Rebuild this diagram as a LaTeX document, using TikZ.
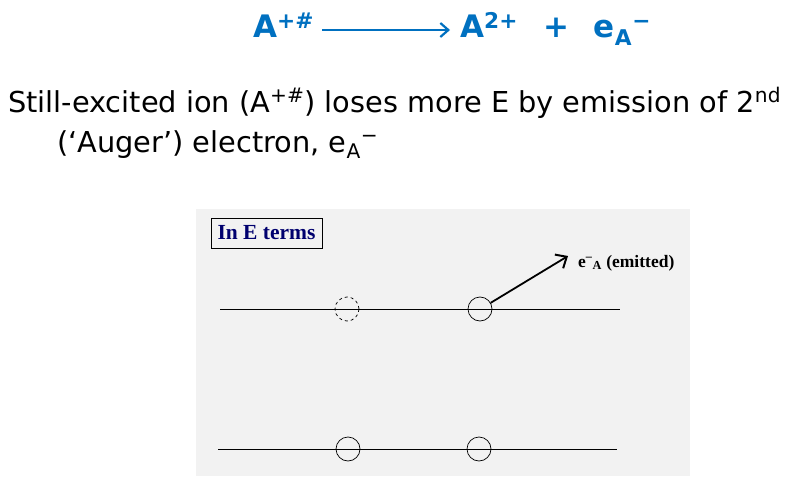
\documentclass[tikz,border=0pt]{standalone}
\usepackage{fontspec}
\setmainfont{Liberation Serif}
\setsansfont{DejaVu Sans}
\usetikzlibrary{arrows.meta}
\definecolor{eqblue}{RGB}{0,112,192}
\definecolor{panelgray}{RGB}{242,242,242}
\definecolor{navy}{RGB}{0,0,110}
\tikzstyle{eq}=[font=\sffamily\bfseries\fontsize{31}{36}\selectfont,text=eqblue,inner sep=0pt,anchor=base west]
\tikzstyle{body}=[font=\sffamily\fontsize{28.8}{34}\selectfont,inner sep=0pt,anchor=base west]
\tikzstyle{level}=[line width=0.9pt]
\tikzstyle{orbit}=[circle,draw,line width=0.7pt,minimum size=24pt,inner sep=0pt]
\tikzstyle{arrow}=[line width=1.8pt,-{Straight Barb[length=9pt,width=16pt,line width=2pt]}]

\begin{document}
\begin{tikzpicture}[x=1pt,y=-1pt]
\useasboundingbox (0,0) rectangle (806,495);

% reaction
\node (lhs) [eq] at (253,38) {A\textsuperscript{+\#}};
\node (rhs) [eq] at (460,38) {A\textsuperscript{2+}\hspace{26pt}+\hspace{24pt}e\textsubscript{A}\textsuperscript{−}};
\coordinate (a1) at (322,30);
\coordinate (a2) at (450,30);
\draw[eqblue,line width=1.5pt,-{Straight Barb[length=8pt,width=14pt,line width=2.2pt]}] (a1) -- (a2);

% text
\node (line1) [body] at (8,112) {Still-excited ion (A\textsuperscript{+\#}) loses more E by emission of 2\textsuperscript{nd}};
\node (line2) [body] at (57,152) {(`Auger') electron, e\textsubscript{A}\textsuperscript{−}};

% panel
\fill[panelgray] (196,209) rectangle (690,476);
\node (title) [draw,line width=0.7pt,fill=panelgray,text=navy,font=\bfseries\fontsize{21.5}{24}\selectfont,minimum width=111pt,minimum height=30pt,inner sep=0pt] at (266.5,233) {In E terms};

% upper level
\coordinate (u1) at (220,309);
\coordinate (u2) at (620,309);
\draw[level] (u1) -- (u2);
\node (hole) [orbit,dashed] at (347,309) {};
\node (auger) [orbit] at (480,309) {};
\node (emit) [font=\bfseries\fontsize{17.5}{20}\selectfont,anchor=west,inner sep=0pt] at (578,263) {e\textsuperscript{\textendash}\textsubscript{A} (emitted)};
\coordinate (tip) at (568,256);
\draw[arrow] (auger.30) -- (tip);

% lower level
\coordinate (l1) at (218,449);
\coordinate (l2) at (617,449);
\draw[level] (l1) -- (l2);
\node (c1) [orbit] at (348,449) {};
\node (c2) [orbit] at (479,449) {};
\end{tikzpicture}
\end{document}
